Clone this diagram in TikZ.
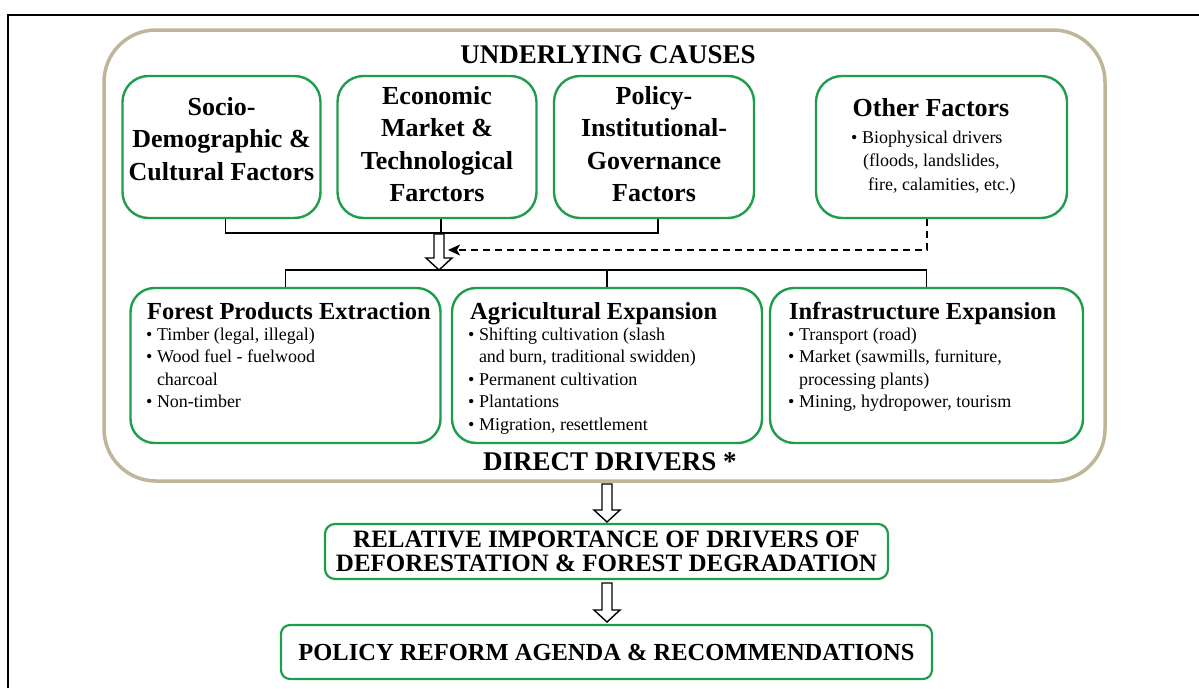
\documentclass[tikz,border=0pt]{standalone}
\usepackage{fontspec}
\setmainfont{Liberation Serif}
\usetikzlibrary{arrows.meta}
\definecolor{boxgreen}{RGB}{30,158,76}
\definecolor{causetan}{RGB}{190,182,150}
\newcommand\setfs[2]{\fontsize{#1}{#2}\selectfont}
\begin{document}
\begin{tikzpicture}[x=1pt,y=-1pt,
  gbox/.style={draw=boxgreen, line width=2.4pt, rounded corners=26pt, inner sep=0pt},
  toptitle/.style={align=center, inner sep=0pt, font=\bfseries\setfs{26}{32.5}},
  subtitle/.style={anchor=base west, inner sep=0pt, font=\bfseries\setfs{24.5}{28}},
  bul/.style={anchor=base west, inner sep=0pt, font=\setfs{18}{22}},
  head/.style={inner sep=0pt, font=\bfseries\setfs{27}{30}},
  conn/.style={line width=1.4pt, black},
  dashconn/.style={line width=1.4pt, dash pattern=on 7pt off 5pt, -{Stealth[length=12pt, width=11pt, inset=3pt]}},
  harrow/.pic={
    \draw[line width=1.4pt, fill=white, line join=miter]
      (-5,0) -- (-5,#1-12) -- (-13,#1-12) -- (0,#1) -- (13,#1-12) -- (5,#1-12) -- (5,0) -- cycle;
    \coordinate (-top) at (0,-1);
    \coordinate (-tip) at (0,#1);
    \coordinate (-side) at (9,16);
  }
]
\useasboundingbox (0,0) rectangle (1199,688);

% page frame
\draw[line width=1.2pt] (8,688) -- (8,15) -- (1199,15);

% container of underlying causes and direct drivers
\draw[causetan, line width=3.5pt, rounded corners=52pt] (104,30) rectangle (1105,481);
\node[head] (uc) at (608,55) {UNDERLYING CAUSES};
\node[head] (dd) at (610,462) {DIRECT DRIVERS *};

% underlying causes
\node[gbox, minimum width=198pt, minimum height=142pt] (u1) at (221.5,147) {};
\node[gbox, minimum width=199pt, minimum height=142pt] (u2) at (437,147) {};
\node[gbox, minimum width=200pt, minimum height=142pt] (u3) at (654,147) {};
\node[gbox, minimum width=251pt, minimum height=142pt] (u4) at (941.5,147) {};
\node[toptitle] (u1t) at (221.5,139) {Socio-\\Demographic \&\\Cultural Factors};
\node[toptitle] (u2t) at (437,144) {Economic\\Market \&\\Technological\\Farctors};
\node[toptitle] (u3t) at (654,144) {Policy-\\Institutional-\\Governance\\Factors};
\node[inner sep=0pt, font=\bfseries\setfs{26}{30}] (u4t) at (931,108) {Other Factors};
\node[bul] (u4a) at (851,143) {• Biophysical drivers};
\node[bul] (u4b) at (863,166.5) {(floods, landslides,};
\node[bul] (u4c) at (868,190) {fire, calamities, etc.)};

% direct drivers
\node[gbox, rounded corners=24pt, minimum width=310pt, minimum height=155pt] (d1) at (285.5,365.5) {};
\node[gbox, rounded corners=24pt, minimum width=310pt, minimum height=155pt] (d2) at (607,365.5) {};
\node[gbox, rounded corners=24pt, minimum width=313pt, minimum height=155pt] (d3) at (926.5,365.5) {};

\node[subtitle] (d1t) at (147,319) {Forest Products Extraction};
\node[bul] (d1a) at (146,340) {• Timber (legal, illegal)};
\node[bul] (d1b) at (146,362.5) {• Wood fuel - fuelwood};
\node[bul] (d1c) at (146,385) {\phantom{• }charcoal};
\node[bul] (d1d) at (146,407.5) {• Non-timber};

\node[subtitle] (d2t) at (470,319) {Agricultural Expansion};
\node[bul] (d2a) at (468,340) {• Shifting cultivation (slash};
\node[bul] (d2b) at (468,362.5) {\phantom{• }and burn, traditional swidden)};
\node[bul] (d2c) at (468,385) {• Permanent cultivation};
\node[bul] (d2d) at (468,407.5) {• Plantations};
\node[bul] (d2e) at (468,430) {• Migration, resettlement};

\node[subtitle] (d3t) at (789,319) {Infrastructure Expansion};
\node[bul] (d3a) at (788,340) {• Transport (road)};
\node[bul] (d3b) at (788,362.5) {• Market (sawmills, furniture,};
\node[bul] (d3c) at (788,385) {\phantom{• }processing plants)};
\node[bul] (d3d) at (788,407.5) {• Mining, hydropower, tourism};

% outcome boxes
\node[gbox, line width=2.2pt, rounded corners=10pt, minimum width=563pt, minimum height=55pt,
      align=center, font=\bfseries\setfs{25}{24}] (ri) at (606.5,551.5)
      {RELATIVE IMPORTANCE OF DRIVERS OF\\DEFORESTATION \& FOREST DEGRADATION};
\node[gbox, line width=2.2pt, rounded corners=9pt, minimum width=651pt, minimum height=54pt,
      font=\bfseries\setfs{24.5}{28}] (pr) at (606.5,652)
      {POLICY REFORM AGENDA \& RECOMMENDATIONS};

% hollow arrows
\pic (ha) at (439,234) {harrow=36};
\pic (hb) at (607,484) {harrow=38};
\pic (hc) at (607,583) {harrow=39};

% connectors from underlying causes
\draw[conn] ([xshift=4pt]u1.south) -- ([xshift=4pt]u1.south |- ha-top) -- ([xshift=4pt]u3.south |- ha-top) -- ([xshift=4pt]u3.south);
\draw[conn] ([xshift=4pt]u2.south) -- ([xshift=4pt]u2.south |- ha-top);
\draw[dashconn] ([xshift=-14.5pt]u4.south) |- (ha-side);

% connectors into direct drivers
\draw[conn] (d1.north) -- (d1.north |- ha-tip) -- (d3.north |- ha-tip) -- (d3.north);
\draw[conn] (d2.north) -- (d2.north |- ha-tip);
\end{tikzpicture}
\end{document}
